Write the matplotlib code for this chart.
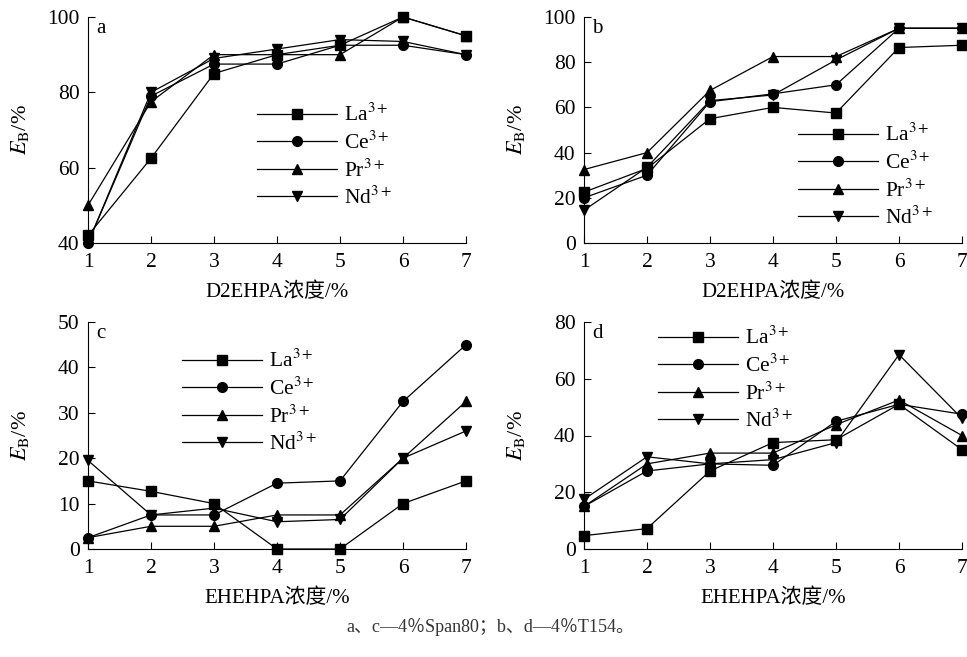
import matplotlib
matplotlib.use("Agg")
from matplotlib import pyplot as plt

# 四个面板：不同萃取剂浓度下的萃取率
plt.rcParams['font.family'] = ['Liberation Serif', 'Noto Sans CJK SC']
plt.rcParams['mathtext.fontset'] = 'stix'

conc = [1, 2, 3, 4, 5, 6, 7]
ions = ["La$^{3+}$", "Ce$^{3+}$", "Pr$^{3+}$", "Nd$^{3+}$"]
markers = ["s", "o", "^", "v"]

a_la = [42, 62.5, 85, 90, 92.5, 100, 95]
a_ce = [40, 79, 87.5, 87.5, 92.5, 92.5, 90]
a_pr = [50, 77.5, 90, 90, 90, 100, 95]
a_nd = [40, 80, 89, 91.5, 94, 93.5, 90]

b_la = [22.5, 33, 55, 60, 57.5, 86.5, 87.5]
b_ce = [20, 30, 62.5, 66, 70, 95, 95]
b_pr = [32.5, 40, 67.5, 82.5, 82.5, 95, 95]
b_nd = [14.5, 33.5, 63, 65.5, 81, 95, 95]

c_la = [15, 12.7, 10, 0, 0, 10, 15]
c_ce = [2.5, 7.5, 7.5, 14.5, 15, 32.5, 45]
c_pr = [2.5, 5, 5, 7.5, 7.5, 20, 32.5]
c_nd = [19.5, 7.5, 9, 6, 6.5, 20, 26]

d_la = [4.7, 7.2, 27.5, 37.5, 38.5, 51, 35]
d_ce = [15, 27.5, 30, 29.5, 45, 51, 47.5]
d_pr = [15, 30, 33.8, 33.8, 43.8, 52.5, 40]
d_nd = [17.5, 32.5, 30, 31.5, 37.5, 68.5, 46]

W, H = 967, 657
fig = plt.figure(figsize=(W / 100, H / 100), dpi=100)


def px_axes(left, right, top, bottom):
    return fig.add_axes([left / W, 1 - bottom / H, (right - left) / W, (bottom - top) / H])


panels = [
    # 位置, 数据, y范围, y刻度, x标签, 字母, 图例位置(像素)
    (px_axes(88, 466, 17, 243), [a_la, a_ce, a_pr, a_nd], (40, 100), range(40, 101, 20),
     "D2EHPA浓度/%", "a", (257, 104)),
    (px_axes(584, 962, 17, 243), [b_la, b_ce, b_pr, b_nd], (0, 100), range(0, 101, 20),
     "D2EHPA浓度/%", "b", (798, 124)),
    (px_axes(88, 466, 322, 549), [c_la, c_ce, c_pr, c_nd], (0, 50), range(0, 51, 10),
     "EHEHPA浓度/%", "c", (182, 350)),
    (px_axes(584, 962, 322, 549), [d_la, d_ce, d_pr, d_nd], (0, 80), range(0, 81, 20),
     "EHEHPA浓度/%", "d", (658, 327)),
]

for ax, series, ylim, yticks, xlabel, letter, leg_px in panels:
    for vals, m, lab in zip(series, markers, ions):
        ax.plot(conc, vals, color="black", lw=0.9, marker=m, markersize=7,
                label=lab, clip_on=False, zorder=3)
    ax.set_xlim(1, 7)
    ax.set_ylim(*ylim)
    ax.set_xticks(conc)
    ax.set_yticks(list(yticks))
    ax.spines["top"].set_visible(False)
    ax.spines["right"].set_visible(False)
    ax.tick_params(direction="in", length=5, width=0.8, labelsize=15.5, pad=6)
    ax.tick_params(axis="x", pad=7)
    ax.set_xlabel(xlabel, fontsize=15, labelpad=8)
    ax.set_ylabel(r"$E_{\mathrm{B}}$/%", fontsize=16)
    ax.yaxis.set_label_coords(-57 / 378, 0.5)
    ax.text(0.022, 0.99, letter, transform=ax.transAxes, fontsize=15, va="top", ha="left")
    lx, ly = leg_px
    ax.legend(loc="upper left", bbox_to_anchor=(lx / W, 1 - ly / H),
              bbox_transform=fig.transFigure, frameon=False, fontsize=15.5,
              handlelength=3.7, handletextpad=0.35, labelspacing=0.25, borderpad=0,
              borderaxespad=0)

fig.text(0.507, 0.045, "a、c—4％Span80；b、d—4％T154。", ha="center", va="center",
         fontsize=13, color="#333333")

fig.savefig("out.png", dpi=100, facecolor="white")
